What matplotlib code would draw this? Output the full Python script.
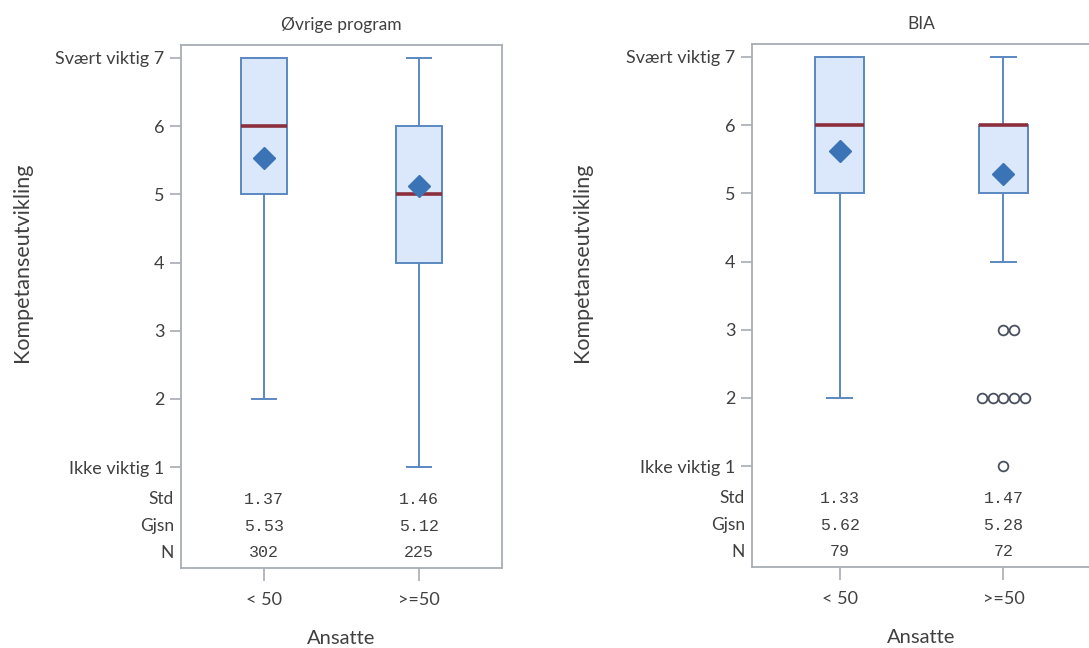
import numpy as np
import matplotlib
matplotlib.use("Agg")
import matplotlib.pyplot as plt

# data
panels = ["Øvrige program", "BIA"]
groups = ["< 50", ">=50"]
q1 = [[5, 4], [5, 5]]
med = [[6, 5], [6, 6]]
q3 = [[7, 6], [7, 6]]
whislo = [[2, 1], [2, 4]]
whishi = [[7, 7], [7, 7]]
mean = [[5.53, 5.12], [5.62, 5.28]]
std = [[1.37, 1.46], [1.33, 1.47]]
n = [[302, 225], [79, 72]]
# outliers (value, count) per panel/group
outliers = [[[], []], [[], [(3, 2), (2, 5), (1, 1)]]]
yticks = [1, 2, 3, 4, 5, 6, 7]
yticklabels = ["Ikke viktig 1", "2", "3", "4", "5", "6", "Svært viktig 7"]

txt = "#404040"
spine = "#a8adb4"
box_fc = "#dbe7fb"
box_ec = "#5a88c0"
med_c = "#8c2f3c"
mean_c = "#3a73b6"
font = ["Lato", "DejaVu Sans"]
mono = ["Liberation Mono", "DejaVu Sans Mono"]

plt.rcParams["font.family"] = font

W, H = 1089, 648
fig = plt.figure(figsize=(W / 100, H / 100), dpi=100)

# axes frames in pixels: (left, top, right, bottom)
frames = [(181, 45, 502, 568), (752, 44, 1091, 567)]

for p, (l, t, r, b) in enumerate(frames):
    ax = fig.add_axes([l / W, 1 - b / H, (r - l) / W, (b - t) / H])
    stats = []
    for g in range(2):
        stats.append(dict(med=med[p][g], q1=q1[p][g], q3=q3[p][g],
                          whislo=whislo[p][g], whishi=whishi[p][g],
                          mean=mean[p][g], fliers=[]))
    ax.bxp(stats, positions=[0, 1], widths=0.3, capwidths=0.15,
           patch_artist=True, showmeans=True, showfliers=False,
           boxprops=dict(facecolor=box_fc, edgecolor=box_ec, linewidth=1.4),
           whiskerprops=dict(color=box_ec, linewidth=1.4),
           capprops=dict(color=box_ec, linewidth=1.4),
           medianprops=dict(color=med_c, linewidth=2.6),
           meanprops=dict(marker="D", markersize=11, markerfacecolor=mean_c,
                          markeredgecolor=mean_c))

    # outlier clusters
    spacing = 0.065
    for g in range(2):
        for val, cnt in outliers[p][g]:
            offs = (np.arange(cnt) - (cnt - 1) // 2) * spacing
            ax.plot(g + offs, [val] * cnt, "o", ms=7, mfc="none",
                    mec="#4a5060", mew=1.3, zorder=4)

    ax.set_xlim(-0.535, 1.535)
    ax.set_ylim(-0.48, 7.19)
    ax.set_yticks(yticks)
    ax.set_yticklabels(yticklabels)
    ax.set_xticks([0, 1])
    ax.set_xticklabels(groups)
    ax.tick_params(axis="y", colors=spine, labelcolor=txt, labelsize=13,
                   length=8, width=1.2, pad=4)
    ax.tick_params(axis="x", colors=spine, labelcolor=txt, labelsize=13,
                   length=9, width=1.2, pad=8)
    for s in ax.spines.values():
        s.set_color(spine)
        s.set_linewidth(1.3)

    ax.set_title(panels[p], fontsize=12.5, color=txt, pad=11)
    ax.set_xlabel("Ansatte", fontsize=14.5, color=txt, labelpad=16)

    # stats table inside the axes
    rows = [("Std", std[p], "{:.2f}", 0.53), ("Gjsn", mean[p], "{:.2f}", 0.135),
            ("N", n[p], "{}", -0.26)]
    for lab, vals, fmt, yv in rows:
        ax.annotate(lab, xy=(0, yv), xycoords=("axes fraction", "data"),
                    xytext=(-5, 0), textcoords="offset points",
                    ha="right", va="center", fontsize=12.5, color=txt,
                    annotation_clip=False)
        for g in range(2):
            ax.text(g, yv, fmt.format(vals[g]), ha="center", va="center",
                    fontsize=12, color=txt, family=mono)

    # y label centred on the 1-7 range
    ylab_x = [22, 582][p]
    fig.text(ylab_x / W, 1 - 262 / H, "Kompetanseutvikling", rotation=90,
             ha="center", va="center", fontsize=15.5, color=txt)

fig.savefig("out.png", dpi=100)
